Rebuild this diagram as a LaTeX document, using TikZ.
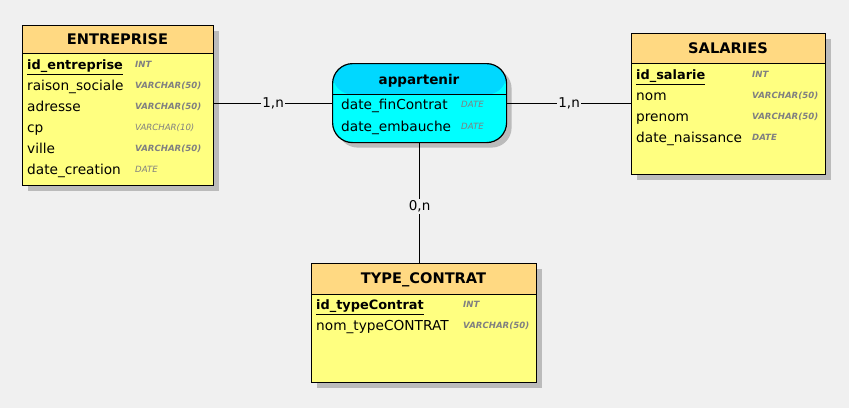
\documentclass[tikz,border=0pt]{standalone}
\usepackage{fontspec}
\setmainfont{DejaVu Sans}
\usetikzlibrary{shadows}
\definecolor{bg}{HTML}{F0F0F0}
\definecolor{headY}{HTML}{FFD982}
\definecolor{bodyY}{HTML}{FFFF80}
\definecolor{headC}{HTML}{00D8FF}
\definecolor{bodyC}{HTML}{00FFFF}
\definecolor{typeG}{HTML}{808080}
\definecolor{shad}{HTML}{BBBBBB}
\tikzset{
  boxbase/.style={draw=black, line width=1.2pt, anchor=north west, inner sep=0pt,
    general shadow={fill=shad, shadow xshift=5pt, shadow yshift=-5pt}},
  entbox/.style={boxbase, fill=bodyY, path picture={\fill[headY] (path picture bounding box.north west) rectangle ([yshift=-#1]path picture bounding box.north east);
     \draw[line width=1.2pt] ([yshift=-#1]path picture bounding box.north west) -- ([yshift=-#1]path picture bounding box.north east);}},
  assocbox/.style={boxbase, fill=bodyC, rounded corners=20pt, path picture={\fill[headC] (path picture bounding box.north west) rectangle ([yshift=-#1]path picture bounding box.north east);
     \draw[line width=1.2pt] ([yshift=-#1]path picture bounding box.north west) -- ([yshift=-#1]path picture bounding box.north east);}},
  title/.style={font=\fontsize{14.6}{16}\selectfont\bfseries, inner sep=0pt, text height=10.5pt, text depth=3pt, yshift=-1.5pt},
  fld/.style={font=\fontsize{13.7}{16}\selectfont, anchor=west, inner sep=0pt, text height=10pt, text depth=3pt, yshift=-1pt},
  key/.style={font=\fontsize{12.9}{16}\selectfont\bfseries, anchor=west, inner sep=0pt, text height=10pt, text depth=3pt, yshift=-1pt},
  typ/.style={font=\fontsize{8.6}{10}\selectfont\bfseries\itshape, text=typeG, anchor=west, inner sep=0pt, text height=6.5pt, text depth=1.5pt},
  typl/.style={typ, font=\fontsize{8.6}{10}\selectfont\itshape},
  card/.style={font=\fontsize{13.5}{15}\selectfont, fill=bg, inner sep=1.5pt},
  link/.style={line width=1pt, draw=black}
}
\newcommand{\pk}[1]{\underline{#1}}
\begin{document}
\begin{tikzpicture}[x=1pt,y=-1pt]
\fill[bg] (0,0) rectangle (849,408);
\useasboundingbox (0,0) rectangle (849,408);

% ENTREPRISE
\node[entbox=28pt, minimum width=191pt, minimum height=160pt] (ent) at (22,25) {};
\node[title] (entT) at (117.5,39) {ENTREPRISE};
\node[key] (e1) at (27,65) {\pk{id\_entreprise}};
\node[fld] (e2) at (27,86) {raison\_sociale};
\node[fld] (e3) at (27,107) {adresse};
\node[fld] (e4) at (27,128) {cp};
\node[fld] (e5) at (27,149) {ville};
\node[fld] (e6) at (27,170) {date\_creation};
\node[typ] (et1) at (135,65) {INT};
\node[typ] (et2) at (135,86) {VARCHAR(50)};
\node[typ] (et3) at (135,107) {VARCHAR(50)};
\node[typl] (et4) at (135,128) {VARCHAR(10)};
\node[typ] (et5) at (135,149) {VARCHAR(50)};
\node[typl] (et6) at (135,170) {DATE};

% APPARTENIR
\node[assocbox=31pt, minimum width=174pt, minimum height=79pt] (app) at (332,63) {};
\node[title, font=\fontsize{13.5}{15}\selectfont\bfseries] (appT) at (419,79) {appartenir};
\node[fld] (a1) at (341,105) {date\_finContrat};
\node[fld] (a2) at (341,127) {date\_embauche};
\node[typl] (at1) at (461,105) {DATE};
\node[typl] (at2) at (461,127) {DATE};

% SALARIES
\node[entbox=30pt, minimum width=194pt, minimum height=141pt] (sal) at (631,33) {};
\node[title] (salT) at (728,48) {SALARIES};
\node[key] (s1) at (636,75) {\pk{id\_salarie}};
\node[fld] (s2) at (636,96) {nom};
\node[fld] (s3) at (636,117) {prenom};
\node[fld] (s4) at (636,138) {date\_naissance};
\node[typ] (st1) at (752,75) {INT};
\node[typ] (st2) at (752,96) {VARCHAR(50)};
\node[typ] (st3) at (752,117) {VARCHAR(50)};
\node[typ] (st4) at (752,138) {DATE};

% TYPE_CONTRAT
\node[entbox=31pt, minimum width=225pt, minimum height=119pt] (tc) at (311,263) {};
\node[title] (tcT) at (423.5,278) {TYPE\_CONTRAT};
\node[key] (t1) at (316,305) {\pk{id\_typeContrat}};
\node[fld] (t2) at (316,326) {nom\_typeCONTRAT};
\node[typ] (tt1) at (463,305) {INT};
\node[typ] (tt2) at (463,326) {VARCHAR(50)};

% connectors
\draw[link] (app.west) -- node[card] (c1) {1,n} (app.west -| ent.east);
\draw[link] (app.east) -- node[card] (c2) {1,n} (app.east -| sal.west);
\draw[link] (app.south) -- node[card, pos=0.53] (c3) {0,n} (app.south |- tc.north);
\end{tikzpicture}
\end{document}
